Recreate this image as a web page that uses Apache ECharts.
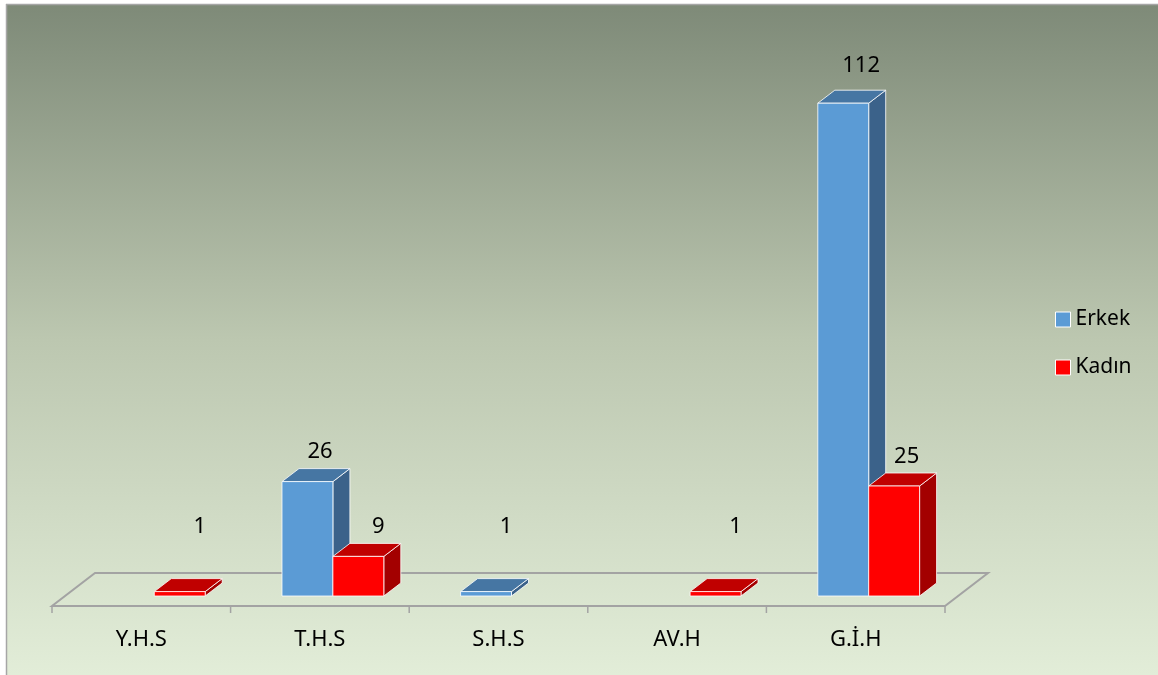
<!DOCTYPE html>
<html>
<head>
<meta charset="utf-8">
<script src="https://cdn.jsdelivr.net/npm/echarts@6/dist/echarts.min.js"></script>
<style>
html,body{margin:0;padding:0;background:#fff;}
#c{width:1158px;height:675px;}
</style>
</head>
<body>
<div id="c"></div>
<script>
const categories = ['Y.H.S', 'T.H.S', 'S.H.S', 'AV.H', 'G.İ.H'];
const erkek = [0, 26, 1, 0, 112];
const kadin = [1, 9, 0, 1, 25];
const seriesNames = ['Erkek', 'Kadın'];

const FONT = '22px "Noto Sans", sans-serif';
const DX = 17, DY = -13;          // bar depth
const FLOOR_FRONT = [-13, 10];    // floor front edge offset from bar base
const FLOOR_BACK = [30, -23];     // floor back edge offset from bar base

const palettes = [
  {front: '#5b9bd5', top: '#4676a3', side: '#3b628a'},
  {front: '#ff0000', top: '#c00000', side: '#a30000'}
];

function barRenderer(seriesIdx) {
  return function (params, api) {
    const idx = api.value(0), val = api.value(1);
    if (!val) return null;
    const base = api.coord([idx, 0]);
    const top = api.coord([idx, val]);
    const band = api.size([1, 0])[0];
    const w = band * 0.285;
    const x0 = seriesIdx === 0 ? base[0] - w : base[0];
    const x1 = x0 + w;
    const yb = base[1], yt = top[1];
    const h = yb - yt;
    const p = palettes[seriesIdx];
    const edge = {stroke: 'rgba(255,255,255,0.8)', lineWidth: 1};
    const want = yt - 27 - h * 0.022;
    const limit = yb - 69;
    const clamped = want > limit;
    const ly = Math.min(want, limit);
    const lx = (x0 + x1) / 2 + (clamped ? 20 : 11 + h * 0.014);
    return {
      type: 'group',
      children: [
        {type: 'polygon', shape: {points: [[x1, yb], [x1 + DX, yb + DY], [x1 + DX, yt + DY], [x1, yt]]},
          style: Object.assign({fill: p.side}, edge)},
        {type: 'polygon', shape: {points: [[x0, yt], [x1, yt], [x1 + DX, yt + DY], [x0 + DX, yt + DY]]},
          style: Object.assign({fill: p.top}, edge)},
        {type: 'rect', shape: {x: x0, y: yt, width: w, height: h},
          style: Object.assign({fill: p.front}, edge)},
        {type: 'text', style: {text: String(val), x: lx, y: ly, fill: '#000', font: FONT,
          align: 'center', verticalAlign: 'middle'}}
      ]
    };
  };
}

function floorRenderer(params, api) {
  const idx = api.value(0);
  const cs = params.coordSys;
  const base = api.coord([idx, 0]);
  const band = api.size([1, 0])[0];
  const yb = base[1];
  const fy = yb + FLOOR_FRONT[1];
  const children = [];
  if (idx === 0) {
    const L = cs.x, R = cs.x + cs.width;
    children.push({type: 'polygon', shape: {points: [
      [L + FLOOR_FRONT[0], fy], [R + FLOOR_FRONT[0], fy],
      [R + FLOOR_BACK[0], yb + FLOOR_BACK[1]], [L + FLOOR_BACK[0], yb + FLOOR_BACK[1]]
    ]}, style: {stroke: '#a3a3a3', lineWidth: 2, fill: 'rgba(255,255,255,0.04)'}});
  }
  const leftX = base[0] - band / 2 + FLOOR_FRONT[0];
  children.push({type: 'line', shape: {x1: leftX, y1: fy, x2: leftX, y2: fy + 7}, style: {stroke: '#a3a3a3', lineWidth: 1.5}});
  if (idx === categories.length - 1) {
    const rx = base[0] + band / 2 + FLOOR_FRONT[0];
    children.push({type: 'line', shape: {x1: rx, y1: fy, x2: rx, y2: fy + 7}, style: {stroke: '#a3a3a3', lineWidth: 1.5}});
  }
  children.push({type: 'text', style: {text: categories[idx], x: base[0] + FLOOR_FRONT[0], y: 640,
    fill: '#000', font: FONT, align: 'center', verticalAlign: 'middle'}});
  return {type: 'group', children};
}

const chart = echarts.init(document.getElementById('c'), null, {renderer: 'canvas'});
chart.setOption({
  animation: false,
  backgroundColor: '#ffffff',
  graphic: [
    {type: 'rect', z: -10, shape: {x: 6, y: 4, width: 1152, height: 671},
      style: {fill: {type: 'linear', x: 0, y: 0, x2: 0, y2: 1, colorStops: [
        {offset: 0, color: '#7e8a78'}, {offset: 0.5, color: '#bcc7b0'}, {offset: 1, color: '#e2edd8'}]}}},
    {type: 'line', z: -9, shape: {x1: 6, y1: 4.5, x2: 1158, y2: 4.5}, style: {stroke: '#a6a6a6', lineWidth: 1.5}},
    {type: 'line', z: -9, shape: {x1: 6.5, y1: 4, x2: 6.5, y2: 675}, style: {stroke: '#a6a6a6', lineWidth: 1.5}}
  ],
  grid: {left: 65, right: 200, top: 68, bottom: 79},
  xAxis: {type: 'category', data: categories, show: false},
  yAxis: {type: 'value', min: 0, max: 120, show: false},
  legend: {
    orient: 'vertical', left: 1050, top: 304, itemGap: 27,
    itemWidth: 15, itemHeight: 15, icon: 'rect',
    data: seriesNames,
    textStyle: {fontFamily: 'Noto Sans', fontSize: 21, color: '#000'},
    itemStyle: {borderColor: '#ffffff', borderWidth: 1}
  },
  series: [
    {type: 'custom', name: '__floor', z: 1, renderItem: floorRenderer, silent: true,
      data: categories.map((c, i) => [i, 0])},
    {type: 'custom', name: seriesNames[0], z: 2, renderItem: barRenderer(0),
      itemStyle: {color: palettes[0].front},
      data: erkek.map((v, i) => [i, v])},
    {type: 'custom', name: seriesNames[1], z: 3, renderItem: barRenderer(1),
      itemStyle: {color: palettes[1].front},
      data: kadin.map((v, i) => [i, v])}
  ]
});
</script>
</body>
</html>
